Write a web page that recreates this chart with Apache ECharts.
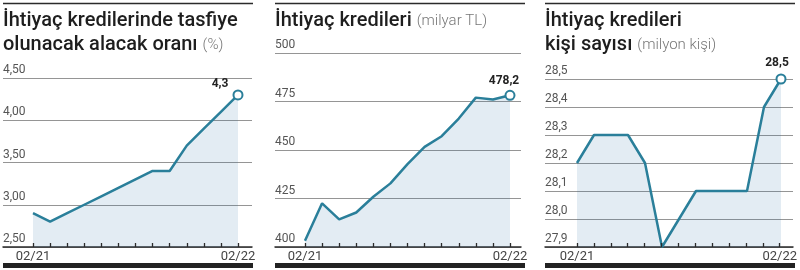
<!DOCTYPE html>
<html><head><meta charset="utf-8">
<script src="https://cdn.jsdelivr.net/npm/echarts@6/dist/echarts.min.js"></script>
<style>html,body{margin:0;padding:0;background:#fff}#c{width:800px;height:270px}</style>
</head><body><div id="c"></div>
<script>
const months = ['02/21','03/21','04/21','05/21','06/21','07/21','08/21','09/21','10/21','11/21','12/21','01/22','02/22'];
const ratioValues  = [2.9, 2.8, 2.9, 3.0, 3.1, 3.2, 3.3, 3.4, 3.4, 3.7, 3.9, 4.1, 4.3];
const loanValues   = [403.2, 422.5, 414.2, 417.8, 425.9, 432.8, 442.7, 451.6, 457.1, 466.2, 477.0, 476.0, 478.2];
const peopleValues = [28.2, 28.3, 28.3, 28.3, 28.2, 27.9, 28.0, 28.1, 28.1, 28.1, 28.1, 28.4, 28.5];
const ratioAxis  = {min: 2.5, max: 4.5, interval: 0.5, dec: 2};
const loanAxis   = {min: 400, max: 500, interval: 25, dec: 0};
const peopleAxis = {min: 27.9, max: 28.5, interval: 0.1, dec: 1};
const titles = [
  {l1: 'İhtiyaç kredilerinde tasfiye', l2: 'olunacak alacak oranı', unit: '(%)'},
  {l1: 'İhtiyaç kredileri', l2: null, unit: '(milyar TL)'},
  {l1: 'İhtiyaç kredileri', l2: 'kişi sayısı', unit: '(milyon kişi)'}
];
const lastDec = [1, 1, 1];

const FONT = 'Roboto';
const LINE = '#2a7f9a';
const AREA = 'rgba(30,100,160,0.18)';

const panels = [
  {vals: ratioValues, ax: ratioAxis, left: 3, width: 249, top: 78, height: 169, xmin: -1.756, xmax: 12.82, tl: 33, tw: 205, lblOff: [-18, 6], lblDist: 5},
  {vals: loanValues, ax: loanAxis, left: 275, width: 246, top: 53, height: 194, xmin: -1.756, xmax: 12.644, tl: 305, tw: 205, lblOff: [-6, 0], lblDist: 3},
  {vals: peopleValues, ax: peopleAxis, left: 545, width: 248, top: 79, height: 168, xmin: -1.882, xmax: 12.706, tl: 577, tw: 204, lblOff: [-4, 0], lblDist: 5}
];

const fmt = (v, d) => v.toFixed(d).replace('.', ',');

const grid = [], xAxis = [], yAxis = [], series = [], title = [], graphic = [];
panels.forEach((p, k) => {
  grid.push({left: p.left, top: p.top, width: p.width, height: p.height});
  xAxis.push({
    type: 'value', gridIndex: k, min: p.xmin, max: p.xmax,
    axisLine: {show: true, lineStyle: {color: '#2b2b2b', width: 1.5}},
    axisTick: {show: false}, axisLabel: {show: false}, splitLine: {show: false}
  });
  yAxis.push({
    type: 'value', gridIndex: k, min: p.ax.min, max: p.ax.max, interval: p.ax.interval,
    axisLine: {show: false}, axisTick: {show: false},
    splitLine: {show: true, lineStyle: {color: '#959595', width: 1}},
    axisLabel: {inside: true, margin: 0, verticalAlign: 'bottom', align: 'left', padding: [0, 0, 2, 0],
      formatter: v => fmt(v, p.ax.dec), color: '#555', fontSize: 12, fontFamily: FONT}
  });
  const n = p.vals.length;
  series.push({
    type: 'line', xAxisIndex: k, yAxisIndex: k, symbol: 'none', z: 3,
    lineStyle: {color: LINE, width: 2.5},
    areaStyle: {color: AREA, origin: 'start'},
    data: p.vals.map((v, i) => i === n - 1 ? {
      value: [i, v], symbol: 'circle', symbolSize: 9,
      itemStyle: {color: '#fff', borderColor: LINE, borderWidth: 2},
      label: {show: true, position: 'top', distance: p.lblDist, offset: p.lblOff,
        formatter: () => fmt(v, lastDec[k]), color: '#222', fontWeight: 'bold', fontSize: 12, fontFamily: FONT}
    } : [i, v])
  });
  const t = titles[k];
  const text = t.l2 ? `{b|${t.l1}}\n{b|${t.l2}} {s|${t.unit}}` : `{b|${t.l1}} {s|${t.unit}}`;
  title.push({
    text, left: p.left, top: 9, padding: 0,
    textStyle: {rich: {
      b: {fontSize: 20, fontWeight: 500, color: '#1e1e1e', lineHeight: 24, fontFamily: FONT},
      s: {fontSize: 15, fontWeight: 300, color: '#777', lineHeight: 24, fontFamily: FONT}
    }}
  });
});
// month tick axes, aligned with the data points
panels.forEach((p, k) => {
  grid.push({left: p.tl, top: p.top, width: p.tw, height: p.height});
  xAxis.push({
    type: 'category', gridIndex: 3 + k, data: months, boundaryGap: false, z: 5,
    axisLine: {show: false},
    axisTick: {show: true, inside: true, length: 4, interval: 0, lineStyle: {color: '#2b2b2b', width: 1.3}},
    axisLabel: {show: true, interval: (i) => i === 0 || i === months.length - 1, color: '#444', fontSize: 13, fontFamily: FONT, margin: 3},
    splitLine: {show: false}
  });
  yAxis.push({type: 'value', gridIndex: 3 + k, show: false, min: 0, max: 1, splitLine: {show: false}});
});
const rules = [[3, 253], [275, 525], [545, 795]];
rules.forEach(r => {
  graphic.push({type: 'line', shape: {x1: r[0], y1: 3.5, x2: r[1], y2: 3.5}, style: {stroke: '#2b2b2b', lineWidth: 1.5}});
  graphic.push({type: 'rect', shape: {x: r[0], y: 263, width: r[1] - r[0], height: 5}, style: {fill: '#222'}});
});

const chart = echarts.init(document.getElementById('c'), null, {renderer: 'canvas'});
chart.setOption({animation: false, backgroundColor: '#fff', title, grid, xAxis, yAxis, series, graphic});
</script></body></html>
